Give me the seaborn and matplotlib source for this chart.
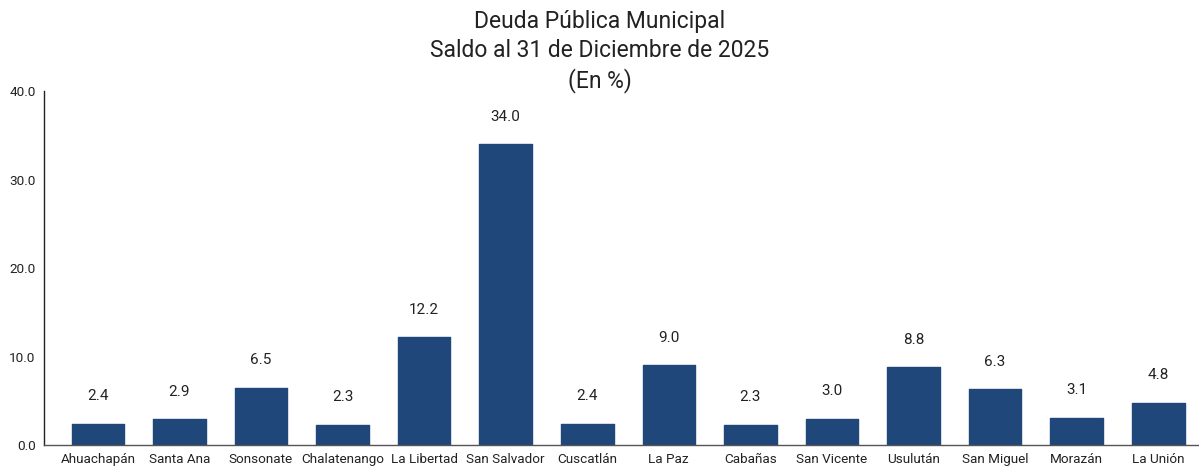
import matplotlib.pyplot as plt
import pandas as pd
import seaborn as sns

# saldo de deuda municipal por departamento (en %)
departamentos = ['Ahuachapán', 'Santa Ana', 'Sonsonate', 'Chalatenango', 'La Libertad',
                 'San Salvador', 'Cuscatlán', 'La Paz', 'Cabañas', 'San Vicente',
                 'Usulután', 'San Miguel', 'Morazán', 'La Unión']
porcentaje = [2.4, 2.9, 6.5, 2.3, 12.2, 34.0, 2.4, 9.0, 2.3, 3.0, 8.8, 6.3, 3.1, 4.8]

df = pd.DataFrame({'Departamento': departamentos, 'Pct': porcentaje})

sns.set_style('white')
plt.rcParams['font.family'] = ['Roboto', 'DejaVu Sans']

fig = plt.figure(figsize=(11.99, 4.67), dpi=100)
ax = fig.add_axes([0.0367, 0.047, 0.9633, 0.758])

color = '#1F477A'
sns.barplot(data=df, x='Departamento', y='Pct', color=color, width=0.645,
            saturation=1, ax=ax)
for p in ax.patches:
    p.set_edgecolor(color)
    p.set_linewidth(1.0)
    p.set_joinstyle('round')

for i, v in enumerate(porcentaje):
    ax.text(i, v + 2.3, f'{v:.1f}', ha='center', va='bottom', fontsize=11, color='#222222')

ax.set_ylim(0, 40)
ax.set_xlim(-0.66, 13.5)
ax.set_yticks([0, 10, 20, 30, 40])
ax.set_yticklabels([f'{t:.1f}' for t in [0, 10, 20, 30, 40]])
ax.tick_params(axis='both', length=0, labelsize=9.7, colors='#222222')
ax.tick_params(axis='x', pad=6)
ax.tick_params(axis='y', pad=6)
ax.set_xlabel('')
ax.set_ylabel('')

sns.despine(ax=ax, top=True, right=True)
ax.spines['left'].set_color('#222222')
ax.spines['bottom'].set_color('#555555')
ax.spines['left'].set_linewidth(1.0)
ax.spines['bottom'].set_linewidth(1.0)

fig.suptitle('Deuda Pública Municipal\nSaldo al 31 de Diciembre de 2025\n(En %)',
             y=0.978, fontsize=16.5, color='#222222', linespacing=1.32)

fig.savefig('out.png', dpi=100)
